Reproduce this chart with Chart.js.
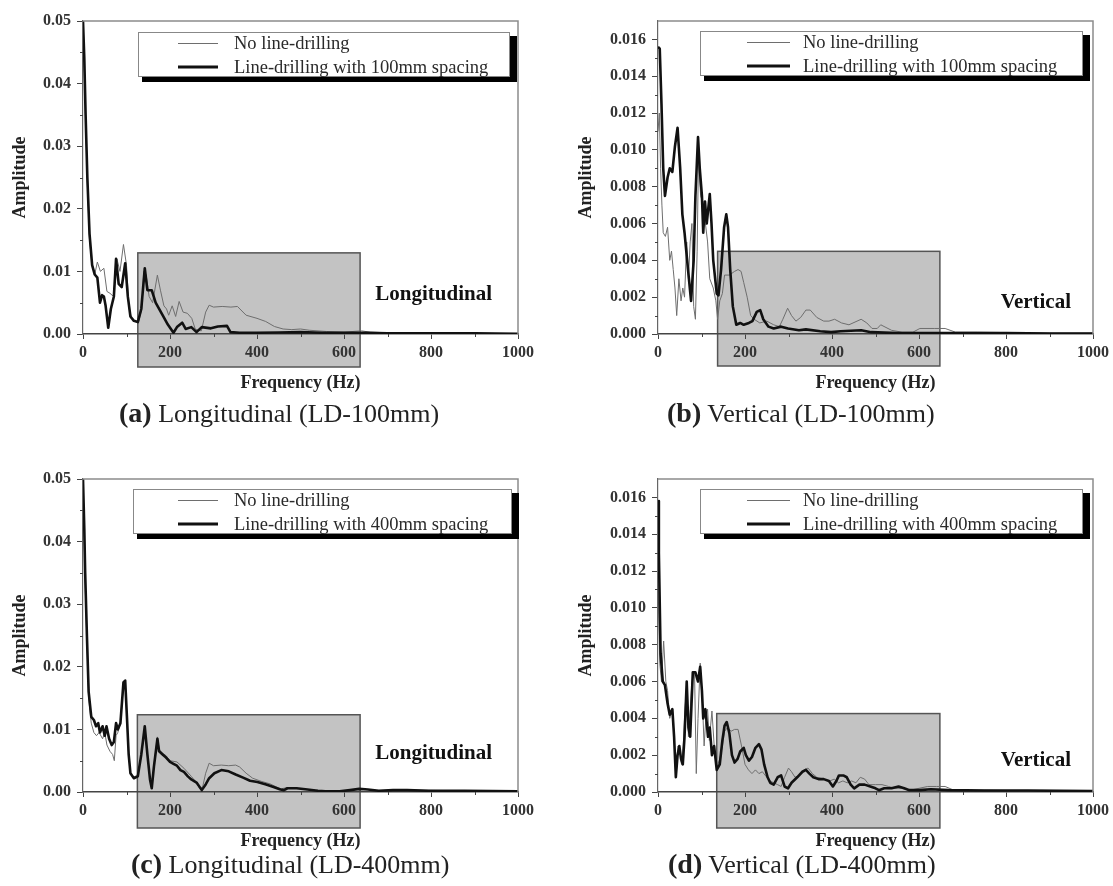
<!DOCTYPE html>
<html>
<head>
<meta charset="utf-8">
<script src="https://cdn.jsdelivr.net/npm/chart.js@4.4.0/dist/chart.umd.min.js"></script>
<style>
  html, body { margin: 0; padding: 0; background: #fff; }
  #page { position: relative; width: 1113px; height: 886px; overflow: hidden; background: #fff; }
  canvas { position: absolute; display: block; }
  .caption {
    position: absolute; white-space: nowrap; transform: translateY(-50%);
    font-family: "Liberation Serif", "Times New Roman", serif; font-size: 26px; color: #222;
  }
  .caption b { font-size: 28px; }
</style>
</head>
<body>
<div id="page">
  <canvas id="cA" width="556" height="400" style="left:0;top:0;width:556px;height:400px"></canvas>
  <canvas id="cB" width="557" height="400" style="left:556px;top:0;width:557px;height:400px"></canvas>
  <canvas id="cC" width="556" height="400" style="left:0;top:458px;width:556px;height:400px"></canvas>
  <canvas id="cD" width="557" height="400" style="left:556px;top:458px;width:557px;height:400px"></canvas>
  <div class="caption" style="left:119px;top:413px"><b>(a)</b> Longitudinal (LD-100mm)</div>
  <div class="caption" style="left:667px;top:413px"><b>(b)</b> Vertical (LD-100mm)</div>
  <div class="caption" style="left:131px;top:864px"><b>(c)</b> Longitudinal (LD-400mm)</div>
  <div class="caption" style="left:668px;top:864px"><b>(d)</b> Vertical (LD-400mm)</div>
</div>
<script>
// ---- Spectra: frequency (Hz) and amplitude per series ----

// (a) Longitudinal, LD-100mm
const aFreqNone = [0, 3, 6, 10, 15, 21, 27, 33, 40, 48, 55, 62, 70, 78, 85, 93, 100, 106, 112, 120, 128, 135, 140, 145, 152, 160, 171, 178, 186, 192, 197, 205, 213, 221, 230, 240, 250, 258, 265, 272, 282, 290, 300, 320, 340, 355, 375, 400, 420, 440, 460, 480, 500, 520, 560, 600, 640, 660, 700, 800, 900, 1000];
const aAmpNone  = [0.048, 0.042, 0.034, 0.024, 0.015, 0.011, 0.0095, 0.0115, 0.010, 0.0105, 0.0068, 0.0065, 0.006, 0.012, 0.010, 0.0143, 0.011, 0.004, 0.0025, 0.002, 0.002, 0.004, 0.010, 0.0095, 0.006, 0.005, 0.0094, 0.007, 0.0045, 0.004, 0.003, 0.0045, 0.0028, 0.0052, 0.0035, 0.0033, 0.0025, 0.0008, 0.0006, 0.0005, 0.0035, 0.0046, 0.0043, 0.0044, 0.0043, 0.0044, 0.003, 0.0025, 0.002, 0.0012, 0.0008, 0.0007, 0.0008, 0.0006, 0.0004, 0.0003, 0.0005, 0.0003, 0.0002, 0.0001, 0.0001, 0.00005];
const aFreqLD   = [0, 3, 6, 10, 15, 21, 27, 33, 39, 44, 48, 52, 58, 64, 71, 76, 82, 89, 97, 103, 109, 117, 126, 134, 142, 148, 158, 167, 175, 183, 195, 208, 216, 228, 236, 249, 261, 273, 294, 310, 331, 339, 360, 400, 450, 500, 550, 600, 650, 700, 800, 900, 1000];
const aAmpLD    = [0.050, 0.044, 0.035, 0.025, 0.016, 0.011, 0.0095, 0.009, 0.005, 0.0062, 0.006, 0.0045, 0.001, 0.004, 0.006, 0.012, 0.008, 0.0075, 0.0113, 0.006, 0.0028, 0.0021, 0.0019, 0.004, 0.0105, 0.007, 0.007, 0.005, 0.004, 0.003, 0.0015, 0.0002, 0.0011, 0.0018, 0.0008, 0.0011, 0.0003, 0.0011, 0.0009, 0.0012, 0.0013, 0.0003, 0.0002, 0.0002, 0.00025, 0.0003, 0.0002, 0.0002, 0.0002, 0.0001, 0.0001, 0.0001, 0.00005];

// (b) Vertical, LD-100mm
const bFreqNone = [0, 3, 6, 9, 12, 17, 22, 27, 31, 35, 39, 43, 48, 53, 57, 61, 66, 70, 74, 78, 82, 86, 90, 93, 98, 102, 109, 114, 119, 127, 133, 137, 142, 148, 153, 164, 176, 184, 191, 197, 205, 213, 221, 234, 250, 266, 279, 287, 298, 307, 317, 328, 340, 350, 365, 381, 393, 406, 422, 439, 467, 480, 492, 504, 512, 537, 561, 586, 602, 635, 660, 684, 734, 791, 900, 1000];
const bAmpNone  = [0.011, 0.012, 0.009, 0.007, 0.0055, 0.0053, 0.0058, 0.004, 0.0045, 0.0035, 0.0025, 0.001, 0.003, 0.0018, 0.0025, 0.002, 0.005, 0.003, 0.005, 0.006, 0.0015, 0.0008, 0.0045, 0.0095, 0.0075, 0.0072, 0.006, 0.005, 0.003, 0.0025, 0.0018, 0.0008, 0.0018, 0.0022, 0.0032, 0.0032, 0.0034, 0.0035, 0.0034, 0.0028, 0.002, 0.001, 0.0008, 0.0006, 0.0007, 0.0005, 0.0004, 0.0008, 0.0014, 0.001, 0.0007, 0.0009, 0.0013, 0.0013, 0.0009, 0.0007, 0.0007, 0.0008, 0.0006, 0.0005, 0.0008, 0.0006, 0.0003, 0.0003, 0.0005, 0.0002, 0.0001, 0.0001, 0.0003, 0.0003, 0.0003, 0.0001, 0.0001, 0.00008, 0.00005, 0.00005];
const bFreqLD   = [0, 4, 8, 12, 16, 22, 27, 33, 39, 45, 51, 56, 61, 67, 76, 82, 86, 92, 96, 101, 104, 108, 112, 119, 123, 127, 135, 139, 145, 152, 157, 161, 166, 172, 180, 189, 197, 209, 217, 227, 235, 242, 254, 266, 283, 299, 324, 340, 373, 398, 420, 467, 490, 550, 600, 650, 700, 800, 900, 1000];
const bAmpLD    = [0.0156, 0.0155, 0.0125, 0.009, 0.0075, 0.0085, 0.009, 0.0088, 0.0102, 0.0112, 0.009, 0.0065, 0.0055, 0.004, 0.0018, 0.004, 0.0075, 0.0107, 0.009, 0.0075, 0.0055, 0.0072, 0.006, 0.0076, 0.006, 0.004, 0.0022, 0.0021, 0.0035, 0.0058, 0.0065, 0.0058, 0.0035, 0.0015, 0.0005, 0.0006, 0.0005, 0.0006, 0.0007, 0.0012, 0.0013, 0.0008, 0.0004, 0.0003, 0.0004, 0.0003, 0.0002, 0.00025, 0.00015, 0.0001, 0.00015, 0.0002, 0.0001, 0.00005, 0.00005, 0.00005, 0.00005, 0.00005, 0.00003, 0.00003];

// (c) Longitudinal, LD-400mm
const cFreqNone = [0, 3, 5, 9, 13, 19, 25, 31, 37, 45, 50, 55, 62, 68, 72, 76, 80, 86, 93, 97, 101, 105, 109, 117, 126, 134, 142, 148, 154, 158, 163, 171, 175, 183, 191, 200, 216, 232, 249, 261, 268, 275, 282, 290, 300, 318, 335, 351, 360, 375, 390, 410, 430, 454, 470, 491, 516, 540, 590, 635, 680, 745, 877, 1000];
const cAmpNone  = [0.048, 0.040, 0.033, 0.024, 0.015, 0.011, 0.0095, 0.009, 0.0095, 0.0085, 0.0095, 0.0075, 0.0065, 0.006, 0.005, 0.009, 0.0095, 0.011, 0.017, 0.0175, 0.0115, 0.0058, 0.003, 0.0024, 0.0027, 0.0058, 0.010, 0.0062, 0.0022, 0.0012, 0.0042, 0.0088, 0.0068, 0.0062, 0.0058, 0.005, 0.0048, 0.0038, 0.0025, 0.0015, 0.0006, 0.0008, 0.003, 0.0046, 0.0042, 0.0043, 0.0042, 0.0043, 0.004, 0.003, 0.0022, 0.0017, 0.0013, 0.0005, 0.0007, 0.0006, 0.0004, 0.0002, 0.0001, 0.0005, 0.0002, 0.0003, 0.0002, 0.0001];
const cFreqLD   = [0, 3, 5, 9, 13, 19, 25, 30, 35, 39, 45, 50, 54, 60, 66, 71, 76, 80, 86, 93, 97, 101, 105, 109, 117, 126, 134, 142, 148, 154, 158, 163, 171, 175, 183, 191, 200, 208, 216, 224, 232, 241, 249, 261, 273, 282, 290, 302, 318, 335, 351, 368, 384, 401, 421, 438, 454, 462, 470, 491, 516, 540, 557, 590, 614, 635, 655, 680, 713, 745, 795, 877, 1000];
const cAmpLD    = [0.050, 0.042, 0.035, 0.025, 0.016, 0.012, 0.0115, 0.0105, 0.011, 0.0095, 0.0105, 0.009, 0.0105, 0.0085, 0.0075, 0.008, 0.011, 0.010, 0.011, 0.0175, 0.0178, 0.012, 0.006, 0.003, 0.0022, 0.0025, 0.006, 0.0105, 0.006, 0.002, 0.0006, 0.004, 0.0085, 0.0065, 0.006, 0.0055, 0.0048, 0.0045, 0.0042, 0.0035, 0.0032, 0.0025, 0.002, 0.0015, 0.0003, 0.0012, 0.0022, 0.003, 0.0035, 0.0033, 0.0028, 0.0023, 0.0018, 0.0016, 0.0012, 0.0008, 0.0004, 0.0003, 0.0006, 0.0006, 0.0004, 0.0002, 0.0001, 0.0001, 0.0003, 0.0005, 0.0004, 0.0002, 0.0003, 0.0003, 0.0002, 0.0002, 0.0001];

// (d) Vertical, LD-400mm
const dFreqNone = [0, 4, 8, 13, 18, 22, 27, 33, 38, 42, 46, 50, 54, 58, 62, 66, 70, 74, 78, 84, 88, 92, 97, 102, 106, 110, 114, 118, 124, 130, 135, 142, 148, 153, 160, 168, 176, 184, 192, 200, 208, 216, 224, 232, 240, 250, 258, 266, 275, 283, 291, 300, 307, 315, 325, 335, 345, 355, 365, 380, 395, 405, 415, 425, 435, 445, 455, 465, 475, 485, 500, 515, 530, 545, 560, 580, 600, 620, 640, 660, 680, 750, 800, 1000];
const dAmpNone  = [0.0115, 0.007, 0.006, 0.0082, 0.006, 0.0055, 0.004, 0.0045, 0.0025, 0.001, 0.0025, 0.0022, 0.0015, 0.0025, 0.0045, 0.0058, 0.003, 0.0045, 0.006, 0.0065, 0.001, 0.004, 0.007, 0.005, 0.0025, 0.004, 0.0045, 0.0028, 0.0044, 0.0022, 0.0013, 0.0018, 0.0025, 0.0033, 0.0035, 0.0033, 0.0034, 0.0034, 0.0025, 0.0015, 0.0012, 0.001, 0.0012, 0.001, 0.0011, 0.0008, 0.0006, 0.0005, 0.0004, 0.0003, 0.0008, 0.0013, 0.0011, 0.0008, 0.0009, 0.0012, 0.0013, 0.001, 0.0008, 0.0007, 0.0006, 0.0007, 0.0005, 0.0006, 0.0005, 0.0006, 0.0005, 0.0008, 0.0007, 0.0004, 0.0004, 0.0004, 0.0003, 0.0002, 0.0002, 0.0001, 0.0002, 0.0003, 0.0003, 0.0003, 0.0001, 0.0001, 0.00008, 0.00005];
const dFreqLD   = [0, 2, 6, 11, 16, 22, 27, 33, 37, 41, 45, 49, 53, 57, 61, 66, 70, 74, 80, 86, 92, 97, 101, 104, 109, 115, 119, 124, 129, 135, 142, 148, 153, 158, 164, 170, 176, 183, 189, 197, 202, 209, 216, 224, 232, 238, 244, 252, 258, 266, 275, 283, 291, 299, 307, 320, 332, 340, 348, 357, 369, 381, 393, 402, 410, 416, 426, 434, 443, 451, 463, 475, 488, 500, 508, 520, 537, 553, 566, 578, 602, 627, 668, 750, 850, 1000];
const dAmpLD    = [0.0158, 0.013, 0.0075, 0.006, 0.0058, 0.0048, 0.0042, 0.0045, 0.003, 0.0008, 0.002, 0.0025, 0.0018, 0.0015, 0.003, 0.006, 0.0035, 0.003, 0.0065, 0.0065, 0.006, 0.0068, 0.0055, 0.004, 0.0045, 0.003, 0.0035, 0.002, 0.0025, 0.0012, 0.0015, 0.0028, 0.0036, 0.0038, 0.0032, 0.002, 0.0016, 0.0018, 0.0022, 0.0024, 0.002, 0.0017, 0.0019, 0.0024, 0.0026, 0.0023, 0.0015, 0.0008, 0.0005, 0.0004, 0.0008, 0.0009, 0.0003, 0.0002, 0.0005, 0.0008, 0.0011, 0.0012, 0.001, 0.0008, 0.0007, 0.0007, 0.0006, 0.0003, 0.0006, 0.0009, 0.0009, 0.0008, 0.0004, 0.0002, 0.0004, 0.0004, 0.0003, 0.0002, 0.0001, 0.0002, 0.0002, 0.0003, 0.0002, 0.0001, 0.0001, 0.00015, 0.0001, 0.00008, 0.00008, 0.00005];

// Axis ticks and labels
const freqTicks = [0, 200, 400, 600, 800, 1000];
const longTicks = [0, 0.01, 0.02, 0.03, 0.04, 0.05];
const vertTicks = [0, 0.002, 0.004, 0.006, 0.008, 0.010, 0.012, 0.014, 0.016];
const seriesNames = ['No line-drilling', 'Line-drilling with 100mm spacing', 'Line-drilling with 400mm spacing'];

const SERIF = '"Liberation Serif", "Times New Roman", serif';
Chart.defaults.font.family = SERIF;

function pts(fs, vs) {
  const n = Math.min(fs.length, vs.length);
  const out = [];
  for (let i = 0; i < n; i++) out.push({ x: fs[i], y: vs[i] });
  return out;
}

// Shaded band, frame, minor ticks, direction label and shadowed legend
const panelDecor = {
  id: 'panelDecor',
  beforeDraw(chart, args, o) {
    const { ctx, chartArea: ca, scales: { x, y } } = chart;
    const x0 = x.getPixelForValue(o.band.from), x1 = x.getPixelForValue(o.band.to);
    const yT = y.getPixelForValue(o.band.top), yB = ca.bottom + o.band.below;
    ctx.save();
    ctx.fillStyle = '#c3c3c3';
    ctx.fillRect(x0, yT, x1 - x0, yB - yT);
    ctx.strokeStyle = '#555';
    ctx.lineWidth = 1.5;
    ctx.strokeRect(x0, yT, x1 - x0, yB - yT);
    ctx.restore();
  },
  afterDraw(chart, args, o) {
    const { ctx, chartArea: ca, scales: { x, y } } = chart;
    ctx.save();
    // top and right frame
    ctx.strokeStyle = '#8c8c8c';
    ctx.lineWidth = 1.5;
    ctx.beginPath();
    ctx.moveTo(ca.left, ca.top); ctx.lineTo(ca.right, ca.top); ctx.lineTo(ca.right, ca.bottom);
    ctx.stroke();
    // minor ticks
    ctx.strokeStyle = '#444';
    ctx.lineWidth = 1;
    ctx.beginPath();
    for (let f = 100; f < 1000; f += 200) {
      const px = Math.round(x.getPixelForValue(f)) + 0.5;
      ctx.moveTo(px, ca.bottom); ctx.lineTo(px, ca.bottom + 3);
    }
    for (let v = o.minorStep; v < y.max; v += 2 * o.minorStep) {
      const py = Math.round(y.getPixelForValue(v)) + 0.5;
      ctx.moveTo(ca.left - 3, py); ctx.lineTo(ca.left, py);
    }
    ctx.stroke();
    // direction label
    ctx.fillStyle = '#111';
    ctx.font = 'bold 21px ' + SERIF;
    ctx.textAlign = 'right';
    ctx.textBaseline = 'middle';
    ctx.fillText(o.tag.text, ca.right - o.tag.dxRight, ca.bottom - o.tag.dyUp);
    // legend with drop shadow
    const L = o.legend;
    const lx = ca.left + L.dxLeft, rx = ca.right - L.dxRight, ty = ca.top + L.dyTop, by = ty + L.height;
    ctx.fillStyle = '#000';
    ctx.fillRect(lx + 4, ty + 4, rx - lx + 3, by - ty + 1);
    ctx.fillStyle = '#fff';
    ctx.fillRect(lx, ty, rx - lx, by - ty);
    ctx.strokeStyle = '#888';
    ctx.lineWidth = 1;
    ctx.strokeRect(lx + 0.5, ty + 0.5, rx - lx - 1, by - ty - 1);
    const rows = [ty + 11.5, ty + 35];
    chart.data.datasets.forEach((ds, i) => {
      ctx.strokeStyle = ds.borderColor;
      ctx.lineWidth = ds.borderWidth === 1 ? 1 : 3;
      ctx.beginPath();
      ctx.moveTo(ca.left + L.sampleFrom, rows[i]);
      ctx.lineTo(ca.left + L.sampleTo, rows[i]);
      ctx.stroke();
      ctx.fillStyle = '#2a2a2a';
      ctx.font = '18.5px ' + SERIF;
      ctx.textAlign = 'left';
      ctx.textBaseline = 'middle';
      ctx.fillText(ds.label, ca.left + L.textAt, rows[i] + 1);
    });
    ctx.restore();
  }
};

function makePanel(p) {
  const tickFont = { family: SERIF, size: 16, weight: 'bold' };
  return new Chart(document.getElementById(p.canvas), {
    type: 'line',
    data: {
      datasets: [
        { label: seriesNames[0], data: pts(p.fNone, p.vNone), borderColor: '#6e6e6e', borderWidth: 1, order: 1 },
        { label: p.ldName, data: pts(p.fLD, p.vLD), borderColor: '#111', borderWidth: 2.6, order: 0 }
      ]
    },
    options: {
      responsive: false,
      animation: false,
      events: [],
      layout: { padding: { top: 21, right: p.padRight, bottom: 0, left: 0 } },
      elements: { point: { radius: 0 }, line: { tension: 0, borderJoinStyle: 'round', fill: false } },
      plugins: {
        legend: { display: false },
        tooltip: { enabled: false },
        panelDecor: { band: p.band, minorStep: p.yStep / 2, tag: p.tag, legend: p.legend }
      },
      scales: {
        x: {
          type: 'linear', min: freqTicks[0], max: freqTicks[freqTicks.length - 1],
          afterFit: s => { s.height = 66; },
          afterBuildTicks: s => { s.ticks = freqTicks.map(v => ({ value: v })); },
          ticks: { font: tickFont, color: '#333', padding: 4, maxRotation: 0, callback: v => String(v) },
          grid: { drawOnChartArea: false, tickLength: 5, color: '#444', tickWidth: 1 },
          border: { color: '#444', width: 1.5 },
          title: { display: true, text: 'Frequency (Hz)', color: '#222',
                   font: { family: SERIF, size: 18, weight: 'bold' }, padding: { top: 0, bottom: 6 } }
        },
        y: {
          type: 'linear', min: 0, max: p.yMax,
          afterFit: s => { s.width = p.axisW; },
          afterBuildTicks: s => { s.ticks = p.yTicks.map(v => ({ value: v })); },
          ticks: { font: tickFont, color: '#333', padding: 6, callback: v => v.toFixed(p.dec) },
          grid: { drawOnChartArea: false, tickLength: 6, color: '#444', tickWidth: 1 },
          border: { color: '#666', width: 1.2 },
          title: { display: true, text: 'Amplitude', color: '#222',
                   font: { family: SERIF, size: 18, weight: 'bold' }, padding: { top: p.titlePad, bottom: 0 } }
        }
      }
    },
    plugins: [panelDecor]
  });
}

const leftLegend  = { dxLeft: 55, dxRight: 8, dyTop: 11, height: 45, sampleFrom: 95, sampleTo: 135, textAt: 151 };
const rightLegend = { dxLeft: 42, dxRight: 10, dyTop: 10, height: 45, sampleFrom: 89, sampleTo: 132, textAt: 145 };

makePanel({ canvas: 'cA', fNone: aFreqNone, vNone: aAmpNone, fLD: aFreqLD, vLD: aAmpLD, ldName: seriesNames[1],
  yMax: 0.05, yStep: 0.01, yTicks: longTicks, dec: 2, axisW: 83, padRight: 38, titlePad: 10,
  band: { from: 126, to: 637, top: 0.01296, below: 33 },
  tag: { text: 'Longitudinal', dxRight: 26, dyUp: 39 }, legend: leftLegend });

makePanel({ canvas: 'cB', fNone: bFreqNone, vNone: bAmpNone, fLD: bFreqLD, vLD: bAmpLD, ldName: seriesNames[1],
  yMax: 0.017, yStep: 0.002, yTicks: vertTicks, dec: 3, axisW: 102, padRight: 20, titlePad: 20,
  band: { from: 137, to: 648, top: 0.00449, below: 32 },
  tag: { text: 'Vertical', dxRight: 22, dyUp: 31 }, legend: rightLegend });

makePanel({ canvas: 'cC', fNone: cFreqNone, vNone: cAmpNone, fLD: cFreqLD, vLD: cAmpLD, ldName: seriesNames[2],
  yMax: 0.05, yStep: 0.01, yTicks: longTicks, dec: 2, axisW: 83, padRight: 38, titlePad: 10,
  band: { from: 125, to: 637, top: 0.01234, below: 36 },
  tag: { text: 'Longitudinal', dxRight: 26, dyUp: 38 }, legend: Object.assign({}, leftLegend, { dxLeft: 50, dxRight: 6, dyTop: 10 }) });

makePanel({ canvas: 'cD', fNone: dFreqNone, vNone: dAmpNone, fLD: dFreqLD, vLD: dAmpLD, ldName: seriesNames[2],
  yMax: 0.017, yStep: 0.002, yTicks: vertTicks, dec: 3, axisW: 102, padRight: 20, titlePad: 20,
  band: { from: 135, to: 648, top: 0.00426, below: 36 },
  tag: { text: 'Vertical', dxRight: 22, dyUp: 31 }, legend: rightLegend });
</script>
</body>
</html>
